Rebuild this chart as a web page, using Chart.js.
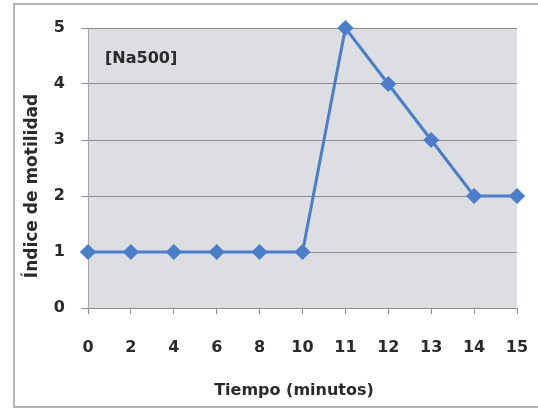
<!DOCTYPE html>
<html>
<head>
<meta charset="utf-8">
<script src="https://cdn.jsdelivr.net/npm/chart.js@4/dist/chart.umd.min.js"></script>
<style>
  html, body { margin: 0; padding: 0; background: #fff; }
</style>
</head>
<body>
<canvas id="chartMotilidad" width="538" height="409"></canvas>
<script>
const minutos = ['0', '2', '4', '6', '8', '10', '11', '12', '13', '14', '15'];
const motilidad = [1, 1, 1, 1, 1, 1, 5, 4, 3, 2, 2];
const ejeY = { min: 0, max: 5, paso: 1 };

const TEXTO = '#2a2a2a';
const FUENTE = '"DejaVu Sans", sans-serif';

// marco exterior, fondo gris del area de trazado y rotulos sueltos
const marco = {
  id: 'marco',
  beforeDraw(chart) {
    const ctx = chart.ctx;
    const a = chart.chartArea;
    ctx.save();
    ctx.fillStyle = '#fff';
    ctx.fillRect(0, 0, chart.width, chart.height);
    ctx.strokeStyle = '#b4b4b4';
    ctx.lineWidth = 2;
    ctx.strokeRect(14, 4, chart.width, 403);
    ctx.fillStyle = '#dddee1';
    ctx.fillRect(a.left, a.top, a.right - a.left, a.bottom - a.top);
    ctx.restore();
  },
  afterDraw(chart) {
    const ctx = chart.ctx;
    ctx.save();
    ctx.fillStyle = TEXTO;
    ctx.textBaseline = 'middle';
    ctx.font = 'bold 16px ' + FUENTE;
    ctx.fillText('[Na500]', 105, 59);

    ctx.textAlign = 'center';
    ctx.fillText('Tiempo (minutos)', 294, 391);

    ctx.font = 'bold 17px ' + FUENTE;
    ctx.translate(33, 186);
    ctx.rotate(-Math.PI / 2);
    ctx.fillText('Índice de motilidad', 0, 0);
    ctx.restore();
  }
};

new Chart(document.getElementById('chartMotilidad'), {
  type: 'line',
  data: {
    labels: minutos,
    datasets: [{
      data: motilidad,
      borderColor: '#4a7ec8',
      backgroundColor: '#4a7ec8',
      borderWidth: 3,
      pointStyle: 'rectRot',
      pointRadius: 6,
      pointHoverRadius: 6,
      tension: 0,
      clip: false
    }]
  },
  options: {
    responsive: false,
    animation: false,
    layout: { padding: { top: 28, right: 21, bottom: 0, left: 0 } },
    plugins: { legend: { display: false }, tooltip: { enabled: false } },
    scales: {
      x: {
        offset: false,
        afterFit(scale) {
          scale.height = 101;
          // sin margen lateral extra por las etiquetas de los extremos
          scale.paddingLeft = 0;
          scale.paddingRight = 0;
        },
        grid: { drawOnChartArea: false, drawTicks: true, tickLength: 6, color: '#8c8c8c' },
        border: { color: '#8c8c8c' },
        ticks: { color: TEXTO, font: { family: FUENTE, size: 16, weight: 'bold' }, padding: 24, maxRotation: 0, autoSkip: false }
      },
      y: {
        min: ejeY.min,
        max: ejeY.max,
        afterFit(scale) {
          scale.width = 88;
          scale.paddingTop = 0;
          scale.paddingBottom = 0;
        },
        grid: { color: '#8c8c8c', tickLength: 6 },
        border: { color: '#a8a8a8' },
        ticks: { stepSize: ejeY.paso, color: TEXTO, font: { family: FUENTE, size: 16, weight: 'bold' }, padding: 17 }
      }
    }
  },
  plugins: [marco]
});
</script>
</body>
</html>
